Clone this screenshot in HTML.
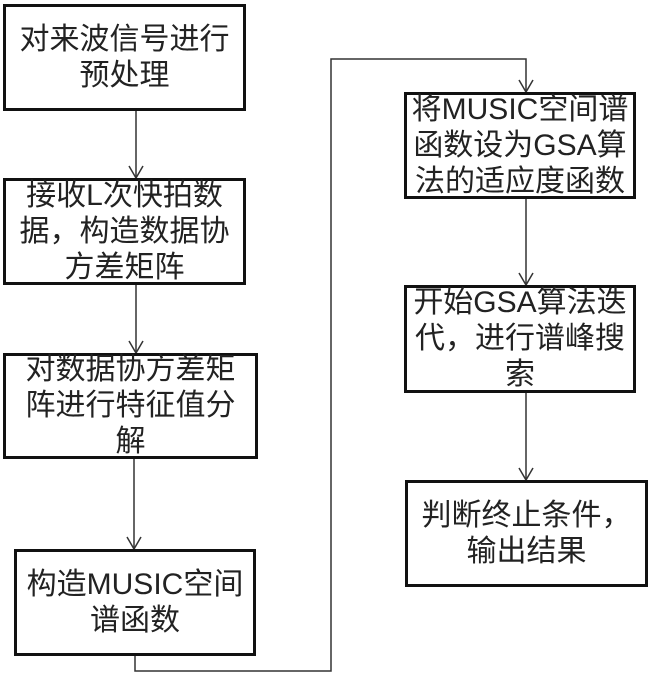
<!DOCTYPE html>
<html><head><meta charset="utf-8"><style>
body{margin:0;width:651px;height:675px;background:#fff;position:relative;overflow:hidden;font-family:"Liberation Sans","Noto Sans CJK SC",sans-serif;}
.b{position:absolute;box-sizing:border-box;border:3px solid #111;display:flex;align-items:center;justify-content:center;text-align:center;font-size:30px;line-height:36px;color:#222;white-space:nowrap;}
svg{position:absolute;left:0;top:0}
</style></head><body>
<svg width="651" height="675" fill="none" stroke="#333" stroke-width="1.5">
<line x1="136" y1="110" x2="136" y2="178"/><polyline points="129,166 136,178 143,166"/>
<line x1="136" y1="285" x2="136" y2="353"/><polyline points="129,341 136,353 143,341"/>
<line x1="134" y1="458" x2="134" y2="549"/><polyline points="127,537 134,549 141,537"/>
<polyline points="135,656 135,671 331,671 331,59 526,59 526,92"/><polyline points="519,80 526,92 533,80"/>
<line x1="526" y1="198" x2="526" y2="285"/><polyline points="519,273 526,285 533,273"/>
<line x1="526" y1="392" x2="526" y2="480"/><polyline points="519,468 526,480 533,468"/>
</svg>
<div class="b" style="left:3px;top:4px;width:243px;height:107px">对来波信号进行<br>预处理</div>
<div class="b" style="left:3px;top:178px;width:243px;height:107px">接收L次快拍数<br>据，构造数据协<br>方差矩阵</div>
<div class="b" style="left:3px;top:353px;width:255px;height:106px">对数据协方差矩<br>阵进行特征值分<br>解</div>
<div class="b" style="left:14px;top:549px;width:242px;height:107px">构造MUSIC空间<br>谱函数</div>
<div class="b" style="left:404px;top:92px;width:232px;height:107px">将MUSIC空间谱<br>函数设为GSA算<br>法的适应度函数</div>
<div class="b" style="left:404px;top:285px;width:232px;height:108px">开始GSA算法迭<br>代，进行谱峰搜<br>索</div>
<div class="b" style="left:405px;top:480px;width:243px;height:107px">判断终止条件，<br>输出结果</div>
</body></html>
